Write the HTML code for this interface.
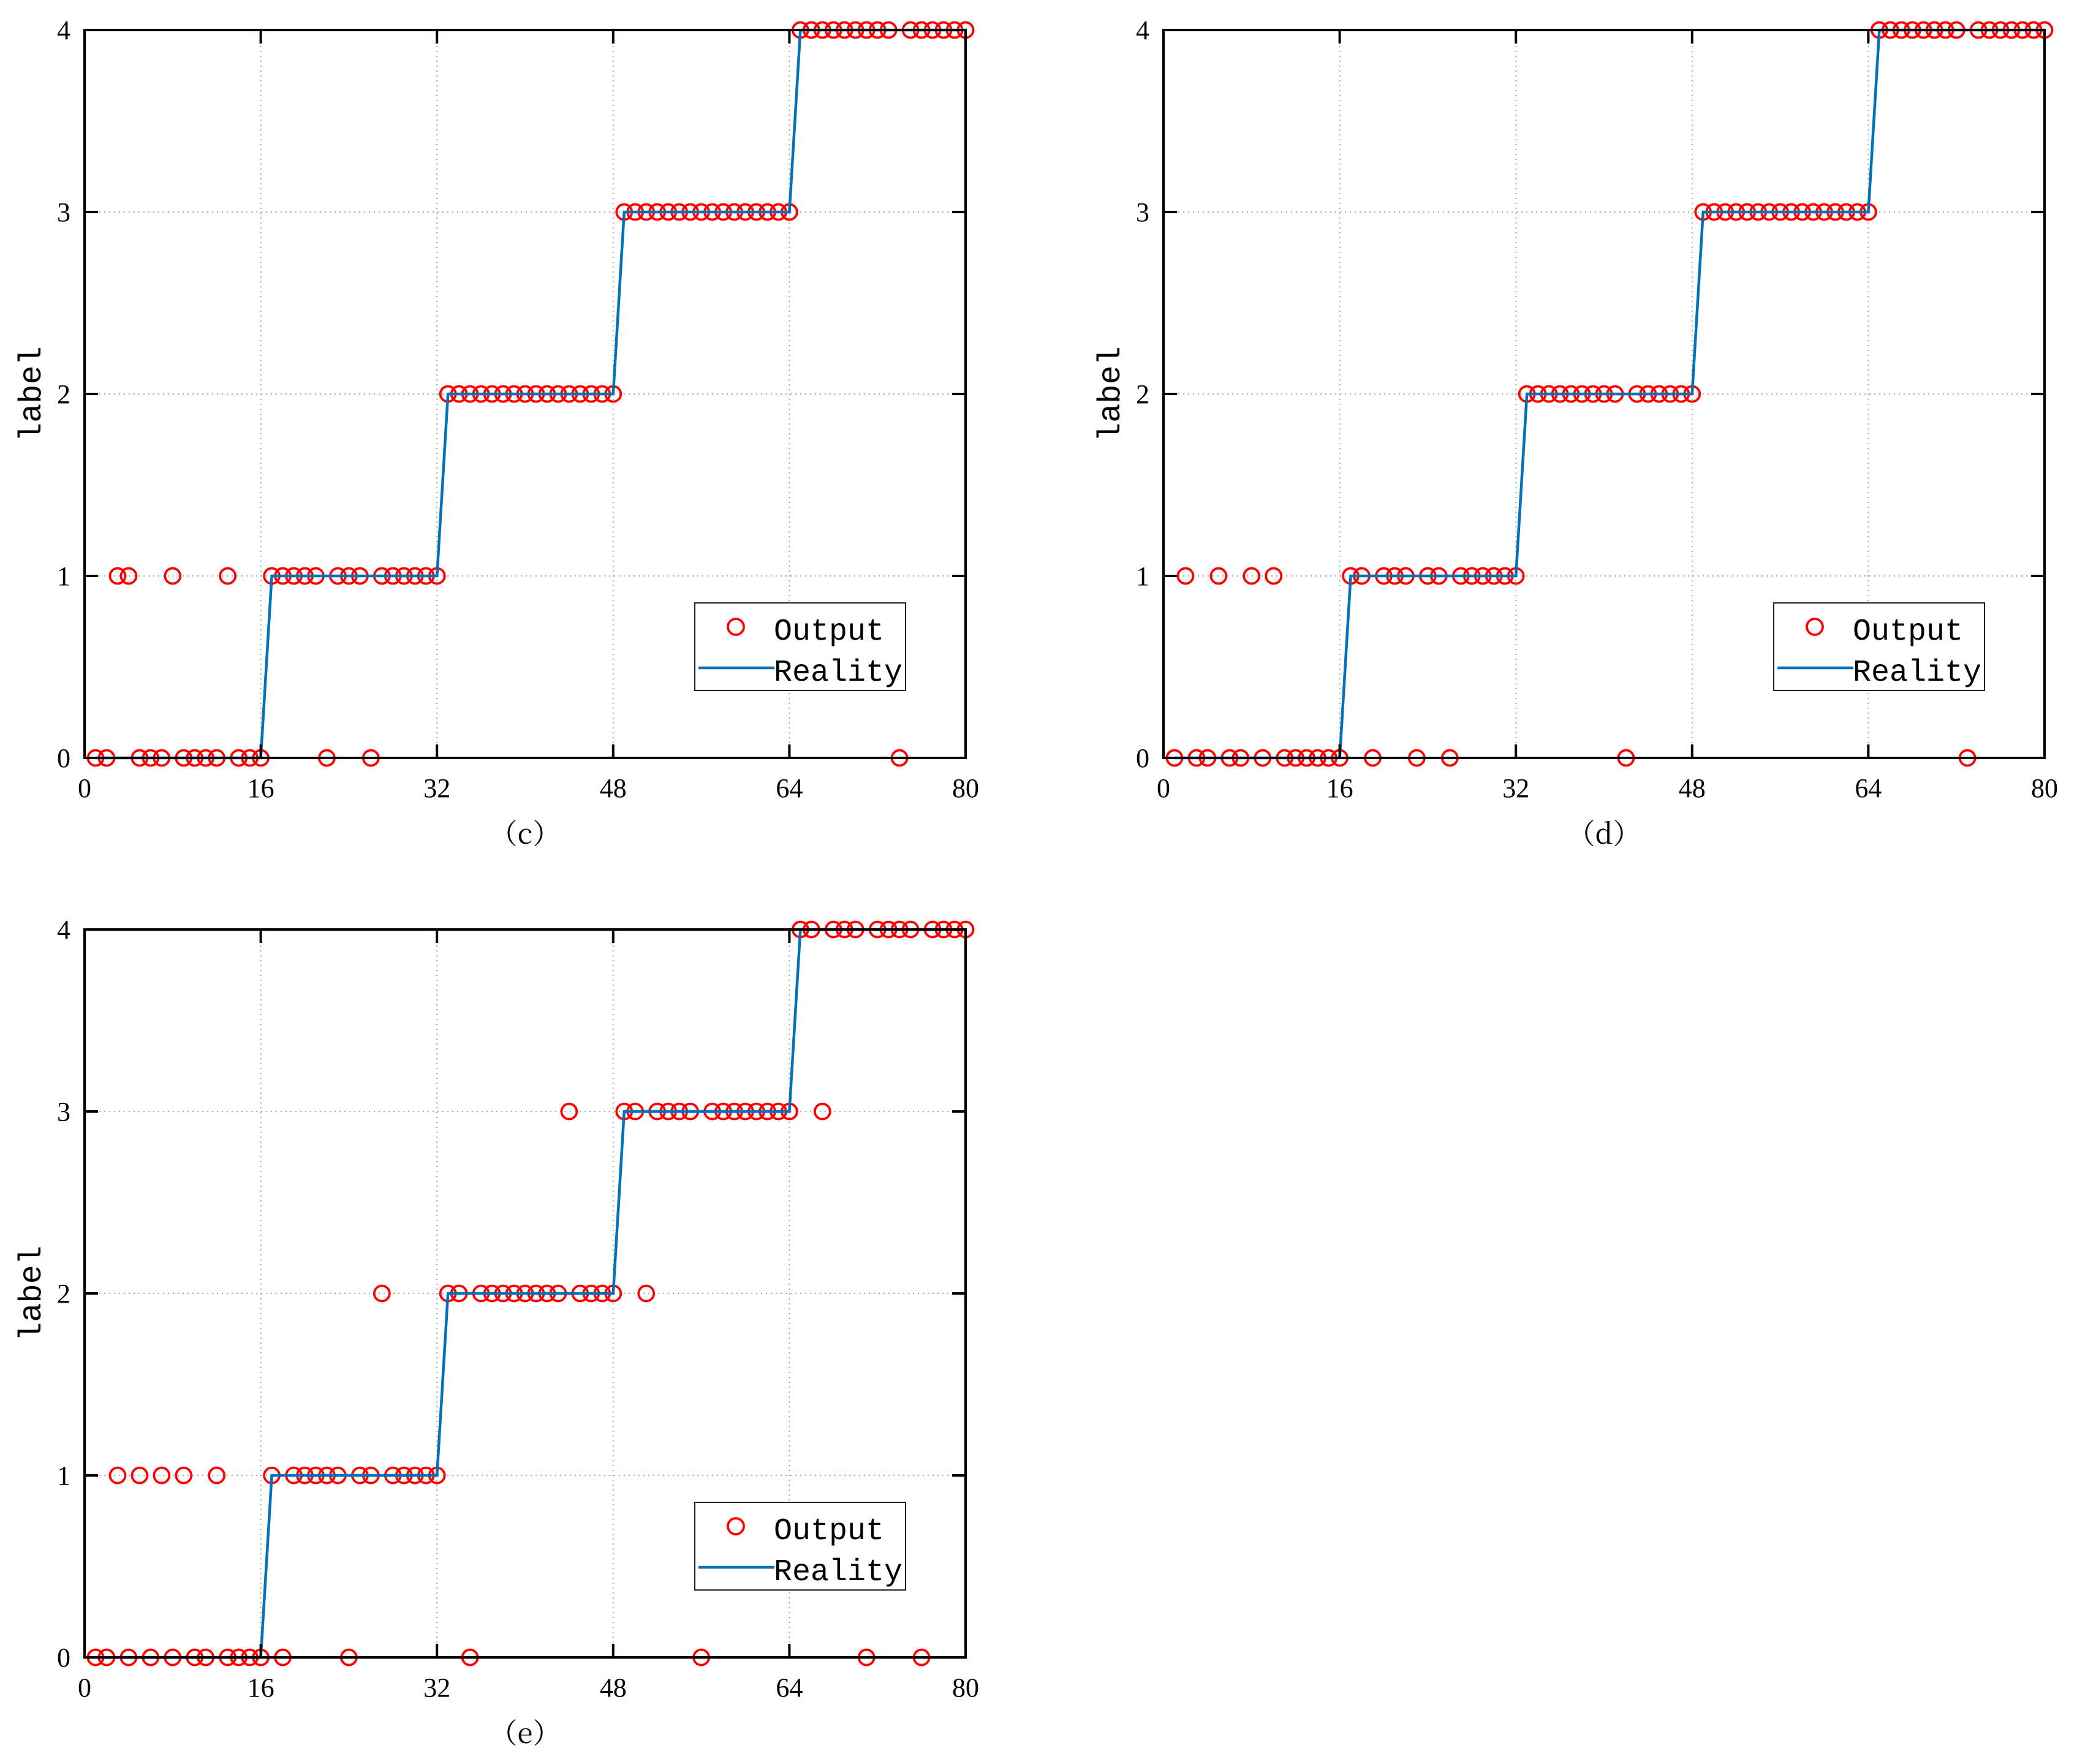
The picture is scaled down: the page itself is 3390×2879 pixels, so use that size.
<!DOCTYPE html>
<html><head><meta charset="utf-8"><style>
html,body{margin:0;padding:0;background:#fff;}
svg{display:block;}
</style></head><body>
<svg id="fig" width="3390" height="2879" viewBox="0 0 3390 2879" xmlns="http://www.w3.org/2000/svg"></svg>
<script>
const xTicks = [0, 16, 32, 48, 64, 80];
const yTicks = [0, 1, 2, 3, 4];
const reality = [0,0,0,0,0,0,0,0,0,0,0,0,0,0,0,0, 1,1,1,1,1,1,1,1,1,1,1,1,1,1,1,1, 2,2,2,2,2,2,2,2,2,2,2,2,2,2,2,2, 3,3,3,3,3,3,3,3,3,3,3,3,3,3,3,3, 4,4,4,4,4,4,4,4,4,4,4,4,4,4,4,4];
const outputC = [0,0,1,1,0,0,0,1,0,0,0,0,1,0,0,0, 1,1,1,1,1,0,1,1,1,0,1,1,1,1,1,1, 2,2,2,2,2,2,2,2,2,2,2,2,2,2,2,2, 3,3,3,3,3,3,3,3,3,3,3,3,3,3,3,3, 4,4,4,4,4,4,4,4,4,0,4,4,4,4,4,4];
const outputD = [0,1,0,0,1,0,0,1,0,1,0,0,0,0,0,0, 1,1,0,1,1,1,0,1,1,0,1,1,1,1,1,1, 2,2,2,2,2,2,2,2,2,0,2,2,2,2,2,2, 3,3,3,3,3,3,3,3,3,3,3,3,3,3,3,3, 4,4,4,4,4,4,4,4,0,4,4,4,4,4,4,4];
const outputE = [0,0,1,0,1,0,1,0,1,0,0,1,0,0,0,0, 1,0,1,1,1,1,1,0,1,1,2,1,1,1,1,1, 2,2,0,2,2,2,2,2,2,2,2,3,2,2,2,2, 3,3,2,3,3,3,3,0,3,3,3,3,3,3,3,3, 4,4,3,4,4,4,0,4,4,4,4,0,4,4,4,4];
const panelNames = ["（c）", "（d）", "（e）"];

const NS = "http://www.w3.org/2000/svg";
const svg = document.getElementById("fig");
function mk(tag, attrs, parent) {
  const e = document.createElementNS(NS, tag);
  for (const k in attrs) e.setAttribute(k, attrs[k]);
  (parent || svg).appendChild(e);
  return e;
}

function drawPanel(ox, oy, outputs, caption, key) {
  const W = 1438, H = 1188;
  const xs = v => ox + v / 80 * W;
  const ys = v => oy - v / 4 * H;
  const g = mk("g", {});
  
  
  xTicks.forEach(t => {
    if (t > 0 && t < 80) {
      const l = mk("line", {x1: xs(t), x2: xs(t), y1: ys(0), y2: ys(4), stroke: "#a8a8a8", "stroke-width": 2, "stroke-dasharray": "2 6"}, g);
      
      
    }
  });
  yTicks.forEach(t => {
    if (t > 0 && t < 4) {
      const l = mk("line", {x1: xs(0), x2: xs(80), y1: ys(t), y2: ys(t), stroke: "#a8a8a8", "stroke-width": 2, "stroke-dasharray": "2 6"}, g);
      
      
    }
  });
  outputs.forEach((v, i) => {
    const c = mk("circle", {cx: xs(i + 1), cy: ys(v), r: 12.5, fill: "none", stroke: "#ff0000", "stroke-width": 3.8}, g);
    
    
  });
  const pts = reality.map((v, i) => xs(i + 1) + "," + ys(v)).join(" ");
  const pl = mk("polyline", {points: pts, fill: "none", stroke: "#0072BD", "stroke-width": 4.5, "stroke-linejoin": "miter"}, g);
  
  
  const box = mk("rect", {x: xs(0), y: ys(4), width: W, height: H, fill: "none", stroke: "#000", "stroke-width": 4}, g);
  
  
  xTicks.forEach(t => {
    mk("line", {x1: xs(t), x2: xs(t), y1: ys(0), y2: ys(0) - 22, stroke: "#000", "stroke-width": 4}, g);
    mk("line", {x1: xs(t), x2: xs(t), y1: ys(4), y2: ys(4) + 22, stroke: "#000", "stroke-width": 4}, g);
    const tx = mk("text", {x: xs(t), y: oy + 64, "text-anchor": "middle", "font-family": "Liberation Serif, serif", "font-size": 44}, g);
    tx.textContent = t;
    
    
  });
  yTicks.forEach(t => {
    mk("line", {x1: xs(0), x2: xs(0) + 22, y1: ys(t), y2: ys(t), stroke: "#000", "stroke-width": 4}, g);
    mk("line", {x1: xs(80), x2: xs(80) - 22, y1: ys(t), y2: ys(t), stroke: "#000", "stroke-width": 4}, g);
    const ty = mk("text", {x: ox - 23, y: ys(t) + 15, "text-anchor": "end", "font-family": "Liberation Serif, serif", "font-size": 44}, g);
    ty.textContent = t;
    
    
  });
  const yl = mk("text", {x: 0, y: 0, transform: "translate(" + (ox - 72) + "," + (oy - H / 2) + ") rotate(-90)", "text-anchor": "middle", "font-family": "Liberation Mono, monospace", "font-size": 52}, g);
  yl.textContent = "label";
  
  
  const cap = mk("text", {x: ox + W / 2, y: oy + 140, "text-anchor": "middle", "font-family": "Noto Serif CJK SC, serif", "font-size": 46}, g);
  cap.textContent = caption;
  
  
  const lx = ox + 996, ly = oy - 253;
  const lg = mk("g", {}, g);
  
  
  mk("rect", {x: lx, y: ly, width: 344, height: 143, fill: "#fff", stroke: "#222", "stroke-width": 2}, lg);
  const lm = mk("circle", {cx: lx + 67, cy: ly + 39, r: 13, fill: "none", stroke: "#ff0000", "stroke-width": 3.8}, lg);
  
  
  const ll = mk("line", {x1: lx + 6, x2: lx + 130, y1: ly + 106, y2: ly + 106, stroke: "#0072BD", "stroke-width": 4.5}, lg);
  
  
  const t1 = mk("text", {x: lx + 129, y: ly + 60, "font-family": "Liberation Mono, monospace", "font-size": 50}, lg);
  t1.textContent = "Output";
  
  
  const t2 = mk("text", {x: lx + 129, y: ly + 127, "font-family": "Liberation Mono, monospace", "font-size": 50}, lg);
  t2.textContent = "Reality";
  
  
}

drawPanel(138, 1237, outputC, panelNames[0], "c");
drawPanel(1899, 1237, outputD, panelNames[1], "d");
drawPanel(138, 2705, outputE, panelNames[2], "e");
</script>
</body></html>
